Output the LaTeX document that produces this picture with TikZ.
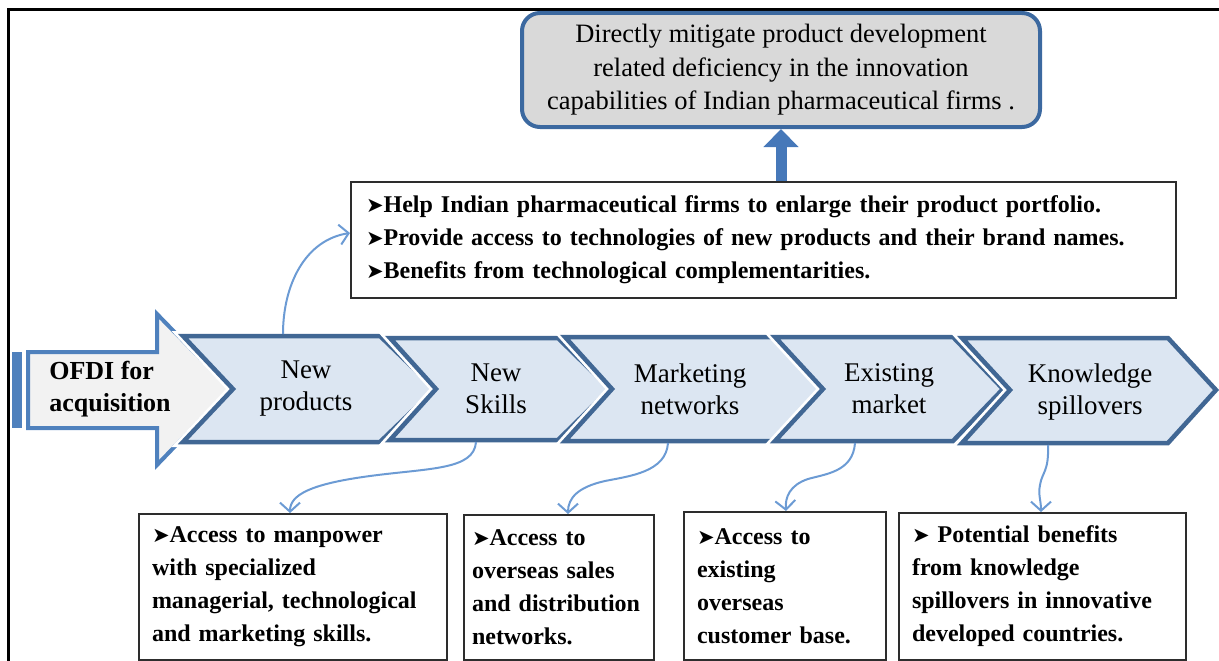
\documentclass[tikz,border=0pt]{standalone}
\usepackage{fontspec}
\setmainfont{Liberation Serif}
\newfontfamily\symfont{DejaVu Sans}
\usetikzlibrary{arrows.meta}
\definecolor{chevfill}{RGB}{220,230,242}
\definecolor{chevline}{RGB}{65,103,148}
\definecolor{topfill}{RGB}{217,217,217}
\definecolor{topline}{RGB}{60,105,160}
\definecolor{bigfill}{RGB}{242,242,242}
\definecolor{bigline}{RGB}{79,129,189}
\definecolor{connblue}{RGB}{108,155,212}
\definecolor{upfill}{RGB}{70,120,185}
\definecolor{boxline}{RGB}{45,45,45}
\newcommand{\bul}{{\symfont\fontsize{21}{21}\selectfont ➤}}
\begin{document}
\begin{tikzpicture}[x=1pt,y=-1pt,
  chevron/.style={fill=chevfill,draw=chevline,line width=4.5pt,line join=miter,
    preaction={draw=white,line width=10pt}},
  chevlabel/.style={font=\fontsize{27}{32}\selectfont,align=center,inner sep=0pt},
  textbox/.style={draw=boxline,line width=2pt,fill=white,anchor=north west,align=left,
    inner xsep=14pt,inner ysep=0pt,font=\bfseries\fontsize{24}{33}\selectfont},
  topbox/.style={draw=topline,fill=topfill,line width=4pt,rounded corners=18pt,
    minimum width=518pt,minimum height=114pt,align=center,inner sep=0pt,
    font=\fontsize{26.5}{33.5}\selectfont},
  connector/.style={draw=connblue,line width=2pt,
    -{Straight Barb[length=9pt,width=20pt,line width=2pt]}},
  uparrow/.style={draw=upfill,line width=11pt,-{Triangle[length=18pt,width=34pt]}}
]
\useasboundingbox (0,0) rectangle (1219,661);
% outer frame
\draw[line width=3pt] (8.5,661) -- (8.5,10) -- (1219,10);

% top goal box
\node[topbox] (goal) at (781,70) {Directly mitigate product development\\related deficiency in the innovation\\capabilities of Indian pharmaceutical firms .};

% middle box
\node[textbox,minimum width=825pt,minimum height=116pt,text width=795pt,inner xsep=15pt] (mid) at (350,181)
  {\bul Help Indian pharmaceutical firms to enlarge their product portfolio.\\
   \bul Provide access to technologies of new products and their brand names.\\
   \bul Benefits from technological complementarities.};

\draw[uparrow] (mid.north -| goal.south) -- (goal.south);

% big OFDI arrow
\fill[bigline] (12,352) rectangle (22,428);
\draw[fill=bigfill,draw=bigline,line width=4pt,line join=miter]
  (28,352) -- (157,352) -- (157,314) -- (230,389) -- (157,465) -- (157,428) -- (28,428) -- cycle;
\node[font=\bfseries\fontsize{26}{32}\selectfont,align=left,inner sep=0pt] (ofdi) at (110,389) {OFDI for\\acquisition};

% chevrons
\draw[chevron] (183,336) -- (380,336) -- (435,389) -- (380,442) -- (183,442) -- (233,389) -- cycle;
\draw[chevron] (390,338) -- (558,338) -- (610,389) -- (558,440) -- (390,440) -- (436,389) -- cycle;
\draw[chevron] (565,337) -- (772,337) -- (828,389) -- (772,441) -- (565,441) -- (612,389) -- cycle;
\draw[chevron] (775,337) -- (953,337) -- (1003,389) -- (953,441) -- (775,441) -- (823,389) -- cycle;
\draw[chevron] (962,338) -- (1168,338) -- (1216,390) -- (1168,443) -- (962,443) -- (1010,390) -- cycle;

\node[chevlabel] (c1) at (306,389) {New\\products};
\node[chevlabel] (c2) at (496,389) {New\\Skills};
\node[chevlabel] (c3) at (690,389) {Marketing\\networks};
\node[chevlabel] (c4) at (889,389) {Existing\\market};
\node[chevlabel] (c5) at (1090,392) {Knowledge\\spillovers};

% bottom boxes
\node[textbox,minimum width=308pt,minimum height=146pt,text width=282pt,inner xsep=13pt] (b1) at (138,513)
  {\bul Access to manpower\\with specialized\\managerial, technological\\and marketing skills.};
\node[textbox,minimum width=190pt,minimum height=145pt,text width=174pt,inner xsep=8pt] (b2) at (463,514)
  {\bul Access to\\overseas sales\\and distribution\\networks.};
\node[textbox,minimum width=202pt,minimum height=148pt,text width=176pt,inner xsep=13pt] (b3) at (683,511)
  {\bul Access to\\existing\\overseas\\customer base.};
\node[textbox,minimum width=287pt,minimum height=147pt,text width=261pt,inner xsep=13pt] (b4) at (898,512)
  {\bul\ Potential benefits\\from knowledge\\spillovers in innovative\\developed countries.};

% connector start points on chevrons
\coordinate (s1) at (283,334);
\coordinate (s2) at (476,442);
\coordinate (s3) at (668,443);
\coordinate (s4) at (855,443);
\coordinate (s5) at (1048,445);

\draw[connector] (s1) .. controls (283,285) and (305,240) .. ([yshift=7pt]mid.west);
\draw[connector] (s2) .. controls (474,470) and (430,468) .. (370,476) .. controls (310,484) and (290,495) .. (b1.north -| 290,0);
\draw[connector] (s3) .. controls (666,472) and (630,476) .. (605,481) .. controls (578,487) and (568,498) .. (b2.north -| 568,0);
\draw[connector] (s4) .. controls (853,472) and (825,474) .. (808,479) .. controls (790,485) and (785,497) .. (b3.north -| 786,0);
\draw[connector] (s5) .. controls (1049,472) and (1042,472) .. (1040,485) .. controls (1038,495) and (1041,500) .. (b4.north -| 1041,0);
\end{tikzpicture}
\end{document}
